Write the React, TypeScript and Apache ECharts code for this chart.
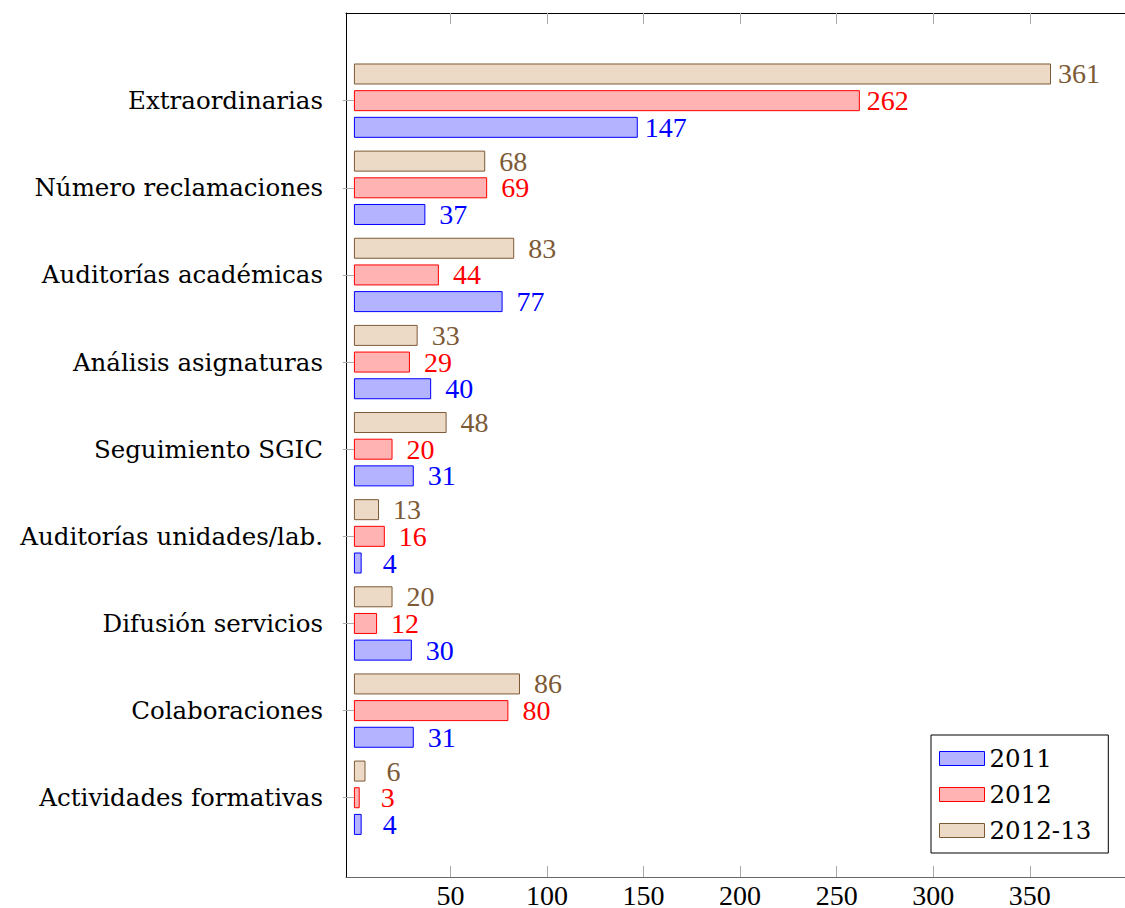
import React, { useEffect, useRef } from 'react';
import * as echarts from 'echarts';

const categories = [
  'Extraordinarias',
  'Número reclamaciones',
  'Auditorías académicas',
  'Análisis asignaturas',
  'Seguimiento SGIC',
  'Auditorías unidades/lab.',
  'Difusión servicios',
  'Colaboraciones',
  'Actividades formativas',
];
const values2011 = [147, 37, 77, 40, 31, 4, 30, 31, 4];
const values2012 = [262, 69, 44, 29, 20, 16, 12, 80, 3];
const values201213 = [361, 68, 83, 33, 48, 13, 20, 86, 6];
const seriesNames = ['2011', '2012', '2012-13'];
const xTicks = [50, 100, 150, 200, 250, 300, 350];

const X_MIN = -4.1;
const X_MAX = 400.35;

function makeSeries(name: string, data: number[], fill: string, stroke: string, labelColor: string) {
  return {
    type: 'bar',
    name,
    data,
    xAxisIndex: 0,
    yAxisIndex: 0,
    barWidth: 21,
    barGap: '27%',
    itemStyle: { color: fill, borderColor: stroke, borderWidth: 1 },
    label: {
      show: true,
      position: 'right',
      distance: 7,
      formatter: '{v|{c}}',
      rich: {
        v: {
          width: 42,
          align: 'center',
          fontFamily: 'Liberation Serif',
          fontSize: 28,
          color: labelColor,
        },
      },
    },
  };
}

export default function App() {
  const ref = useRef<HTMLDivElement>(null);
  useEffect(() => {
    if (!ref.current) return;
    const chart = echarts.init(ref.current, null, { renderer: 'svg' });
    const gridCommon = { left: 346, width: 781, containLabel: false, outerBoundsMode: 'none' };
    chart.setOption({
      animation: false,
      backgroundColor: '#fff',
      grid: [
        { ...gridCommon, top: 57.1, height: 784.2 },
        { ...gridCommon, top: 13, height: 864 },
      ],
      legend: {
        data: seriesNames,
        orient: 'vertical',
        left: 931,
        top: 735,
        itemWidth: 45,
        itemHeight: 14,
        itemGap: 11,
        padding: [11, 17, 10, 8],
        borderColor: '#000',
        borderWidth: 1,
        borderRadius: 0,
        backgroundColor: '#fff',
        icon: 'rect',
        selectedMode: false,
        itemStyle: { borderWidth: 1 },
        textStyle: { fontFamily: 'DejaVu Serif', fontSize: 24.5, color: '#000' },
      },
      xAxis: [
        { gridIndex: 0, type: 'value', min: X_MIN, max: X_MAX, show: false },
        {
          gridIndex: 1,
          type: 'value',
          min: X_MIN,
          max: X_MAX,
          position: 'bottom',
          axisLine: { show: true, onZero: false, lineStyle: { color: '#666', width: 1 } },
          axisTick: { show: true, inside: true, length: 11, customValues: xTicks, lineStyle: { color: '#aaa', width: 1 } },
          axisLabel: { show: true, customValues: xTicks, fontFamily: 'Liberation Serif', fontSize: 28, color: '#000', margin: 4 },
          splitLine: { show: false },
        },
        {
          gridIndex: 1,
          type: 'value',
          min: X_MIN,
          max: X_MAX,
          position: 'top',
          axisLine: { show: true, onZero: false, lineStyle: { color: '#000', width: 1 } },
          axisTick: { show: true, inside: true, length: 11, customValues: xTicks, lineStyle: { color: '#aaa', width: 1 } },
          axisLabel: { show: false },
          splitLine: { show: false },
        },
      ],
      yAxis: [
        {
          gridIndex: 0,
          type: 'category',
          data: categories,
          inverse: true,
          axisLine: { show: false },
          axisTick: { show: true, alignWithLabel: true, interval: 0, length: 11, lineStyle: { color: '#aaa', width: 1 } },
          axisLabel: { interval: 0, margin: 23, fontFamily: 'DejaVu Serif', fontSize: 24.5, color: '#000' },
          splitLine: { show: false },
        },
        {
          gridIndex: 1,
          type: 'value',
          min: 0,
          max: 1,
          axisLine: { show: true, onZero: false, lineStyle: { color: '#000', width: 1 } },
          axisTick: { show: false },
          axisLabel: { show: false },
          splitLine: { show: false },
        },
      ],
      series: [
        makeSeries('2012-13', values201213, '#ecd9c6', '#7d5a36', '#7d5a36'),
        makeSeries('2012', values2012, '#ffb3b3', '#ff0000', '#ff0000'),
        makeSeries('2011', values2011, '#b3b3ff', '#0000ff', '#0000ff'),
      ],
    });
    return () => chart.dispose();
  }, []);
  return (
    <div
      ref={ref}
      style={{ position: 'fixed', left: 0, top: 0, width: 1125, height: 908, background: '#fff' }}
    />
  );
}
